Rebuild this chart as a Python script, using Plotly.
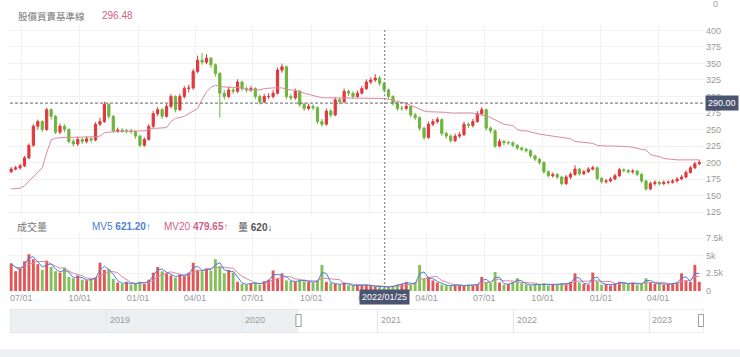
import pandas as pd
import plotly.graph_objects as go

# ---------------- data (weekly) ----------------
start_date = "2020-06-15"
first_open = 186
closes = [190, 192, 195, 207, 226, 255, 262, 250, 280, 270,
          246, 255, 250, 232, 228, 235, 232, 236, 234, 258,
          262, 288, 270, 248, 249, 248, 248, 247, 240, 226,
          235, 255, 274, 280, 270, 285, 300, 280, 300, 312,
          313, 338, 355, 352, 358, 348, 335, 305, 300, 310,
          308, 322, 312, 310, 312, 300, 292, 300, 300, 305,
          340, 345, 300, 298, 308, 288, 282, 285, 283, 262,
          258, 278, 272, 295, 292, 308, 305, 300, 305, 312,
          322, 325, 328, 320, 310, 300, 290, 282, 282, 285,
          272, 268, 252, 238, 258, 262, 265, 244, 240, 233,
          240, 242, 258, 256, 262, 274, 280, 252, 248, 225,
          232, 230, 230, 226, 222, 220, 218, 210, 205, 200,
          186, 180, 182, 178, 168, 178, 182, 190, 183, 186,
          190, 192, 176, 171, 172, 175, 180, 189, 188, 186,
          187, 182, 172, 160, 168, 170, 168, 170, 170, 172,
          175, 178, 185, 192, 198, 200]
highs = [193, 195, 198, 210, 229, 258, 265, 264, 283, 282,
         272, 259, 258, 252, 236, 239, 238, 240, 239, 261,
         268, 292, 290, 272, 253, 252, 251, 251, 249, 242,
         238, 258, 278, 284, 283, 289, 304, 302, 304, 316,
         318, 342, 362, 366, 364, 360, 350, 337, 310, 315,
         314, 326, 324, 315, 316, 314, 303, 304, 305, 310,
         344, 350, 347, 304, 312, 310, 291, 289, 288, 285,
         266, 282, 281, 299, 298, 312, 311, 308, 309, 316,
         326, 329, 334, 331, 322, 312, 302, 292, 286, 289,
         287, 275, 270, 254, 262, 266, 269, 267, 247, 243,
         244, 246, 262, 261, 266, 278, 284, 282, 255, 250,
         236, 234, 233, 232, 228, 224, 222, 220, 212, 207,
         202, 188, 185, 184, 180, 181, 185, 196, 192, 189,
         193, 195, 194, 178, 175, 178, 183, 192, 191, 190,
         190, 189, 184, 174, 171, 173, 172, 173, 173, 175,
         178, 181, 188, 195, 201, 204]
lows = [184, 188, 189, 193, 205, 224, 250, 246, 248, 265,
        243, 243, 246, 229, 224, 225, 228, 229, 230, 232,
        255, 260, 266, 245, 245, 245, 244, 243, 236, 223,
        224, 233, 252, 270, 266, 268, 282, 276, 278, 297,
        306, 310, 335, 348, 349, 343, 330, 268, 295, 297,
        304, 305, 308, 306, 307, 296, 288, 290, 296, 297,
        303, 336, 296, 294, 295, 284, 278, 279, 279, 258,
        254, 256, 268, 270, 288, 290, 301, 296, 298, 303,
        310, 319, 322, 316, 306, 296, 286, 278, 278, 279,
        268, 264, 248, 234, 236, 255, 259, 240, 236, 230,
        231, 237, 240, 252, 253, 260, 271, 248, 244, 222,
        223, 226, 227, 223, 219, 217, 215, 207, 202, 197,
        183, 177, 177, 175, 165, 166, 175, 180, 180, 181,
        184, 188, 173, 168, 168, 170, 173, 178, 185, 183,
        183, 179, 169, 157, 158, 165, 165, 166, 167, 168,
        170, 173, 176, 183, 190, 196]
baseline = [160, 160, 161, 165, 172, 178, 186, 192, 215, 234,
            237, 238, 238, 238, 238, 238, 238, 238, 238, 239,
            240, 245, 246, 247, 247, 247, 247, 247, 247, 247,
            248, 250, 252, 252, 252, 253, 262, 267, 268, 270,
            274, 278, 282, 295, 307, 314, 317, 315, 314, 314,
            314, 313, 313, 310, 310, 310, 310, 312, 313, 313,
            313, 313, 311, 310, 310, 308, 305, 303, 301, 299,
            298, 298, 298, 298, 298, 298, 297, 297, 297, 297,
            297, 297, 297, 297, 297, 296, 294, 292, 291, 290,
            286, 284, 281, 278, 277, 277, 276, 276, 276, 275,
            275, 275, 275, 275, 275, 273, 272, 271, 268, 265,
            262, 258, 257, 256, 250, 248, 248, 246, 244, 243,
            242, 241, 240, 239, 238, 238, 236, 232, 231, 231,
            230, 229, 226, 225, 225, 225, 225, 224, 224, 224,
            223, 221, 220, 219, 212, 210, 209, 206, 205, 204,
            204, 204, 204, 204, 204, 204]
volume = [3900, 2800, 3200, 4200, 5200, 4500, 3800, 3000, 4300, 3400,
          2800, 2600, 3300, 2000, 1800, 2200, 1600, 1500, 1700, 1900,
          4000, 3000, 3100, 1700, 1200, 1000, 1300, 900, 1100, 1300,
          1000, 1600, 2600, 3400, 2800, 2500, 2200, 1900, 2400, 2100,
          2600, 4000, 3000, 2800, 3200, 2900, 4500, 3500, 2500, 3000,
          2600, 1300, 1000, 900, 1100, 1200, 900, 1400, 1600, 2900,
          1800, 2500, 1500, 1400, 1300, 1600, 1500, 1300, 1200, 1500,
          3700, 1300, 1100, 1000, 900, 1200, 800, 700, 900, 800,
          900, 700, 600, 700, 500, 620, 700, 900, 1000, 1300,
          900, 1200, 3700, 1700, 2000, 1500, 1200, 900, 800, 700,
          900, 800, 700, 900, 800, 1000, 2000, 1300, 1100, 2700,
          1200, 900, 1000, 1300, 1800, 1100, 900, 800, 1000, 900,
          1100, 800, 1000, 900, 1100, 900, 1300, 2500, 1200, 1000,
          900, 2600, 1400, 900, 1000, 800, 1100, 1300, 1100, 1000,
          1200, 900, 1100, 1800, 1200, 1000, 1100, 900, 1000, 1100,
          1200, 2500, 1500, 1300, 3700, 1300]

x_tick_labels_fmt = "%m/%d"
price_ticks = [125, 150, 175, 200, 225, 250, 275, 300, 325, 350, 375, 400]
vol_ticks = [0, 2500, 5000, 7500]
vol_tick_text = ["0", "2.5k", "5k", "7.5k"]
slider_years = ["2019", "2020", "2021", "2022", "2023"]

cross_date = "2022-01-25"
cross_price = 290.00
baseline_value = "296.48"
mv5_value, mv20_value, vol_value = "621.20", "479.65", "620"

# ---------------- derived ----------------
dates = pd.date_range(start_date, periods=len(closes), freq="7D")
opens = [first_open] + closes[:-1]
vol_s = pd.Series(volume, dtype=float)
mv5 = vol_s.rolling(2, min_periods=1).mean()
mv20 = vol_s.rolling(5, min_periods=1).mean()

RED = "#e0383c"
GREEN = "#6fb43c"
PINK = "#d98aa2"
BLUE = "#4f7fd6"
GRID = "#f1f1f1"
TICK = dict(size=9, color="#9a9a9a", family="Liberation Sans, Arial")

W, H = 740, 357
ML, MR = 8, 35
PW = W - ML - MR


def px(x):
    return (x - ML) / PW


def py(y):
    return 1 - y / H


fig = go.Figure()

fig.add_trace(go.Candlestick(
    x=dates, open=opens, high=highs, low=lows, close=closes,
    increasing=dict(line=dict(color=RED, width=1), fillcolor=RED),
    decreasing=dict(line=dict(color=GREEN, width=1), fillcolor=GREEN),
    whiskerwidth=0, xaxis="x", yaxis="y", showlegend=False, hoverinfo="skip"))

fig.add_trace(go.Scatter(x=dates, y=baseline, mode="lines",
                         line=dict(color=PINK, width=1), xaxis="x", yaxis="y",
                         showlegend=False, hoverinfo="skip"))

bar_colors = [RED if c >= o else GREEN for o, c in zip(opens, closes)]
fig.add_trace(go.Bar(x=dates, y=volume, marker=dict(color=bar_colors, line=dict(width=0)),
                     opacity=0.85, xaxis="x2", yaxis="y2", showlegend=False, hoverinfo="skip"))
fig.add_trace(go.Scatter(x=dates, y=mv20, mode="lines", line=dict(color=PINK, width=1),
                         xaxis="x2", yaxis="y2", showlegend=False, hoverinfo="skip"))
fig.add_trace(go.Scatter(x=dates, y=mv5, mode="lines", line=dict(color=BLUE, width=1),
                         xaxis="x2", yaxis="y2", showlegend=False, hoverinfo="skip"))

# invisible trace for slider axis
fig.add_trace(go.Scatter(x=["2018-04-16", "2023-05-29"], y=[0, 1], mode="markers",
                         marker=dict(opacity=0), xaxis="x3", yaxis="y3",
                         showlegend=False, hoverinfo="skip"))

xrange_main = ["2020-06-10", "2023-06-14"]
common_x = dict(type="date", range=xrange_main, showgrid=True, gridcolor=GRID,
                dtick="M3", tick0="2020-01-01", zeroline=False, showline=False,
                ticks="", automargin=False, rangeslider=dict(visible=False))

fig.update_layout(
    width=W, height=H, margin=dict(l=ML, r=MR, t=0, b=0),
    paper_bgcolor="white", plot_bgcolor="white", bargap=0.35,
    hovermode=False,
    font=dict(family="Liberation Sans, Arial, Noto Sans CJK TC"),
    xaxis=dict(**common_x, domain=[0, 1], anchor="y", showticklabels=False),
    yaxis=dict(domain=[py(215), py(25)], range=[120.5, 408.3], side="right",
               tickvals=price_ticks, showgrid=True, gridcolor=GRID, zeroline=False,
               tickfont=TICK, automargin=False),
    xaxis2=dict(**common_x, domain=[0, 1], anchor="y2", showticklabels=True,
                tickformat=x_tick_labels_fmt, tickfont=TICK),
    yaxis2=dict(domain=[py(291), py(232)], range=[0, 8350], side="right",
                tickvals=vol_ticks, ticktext=vol_tick_text, showgrid=True,
                gridcolor=GRID, zeroline=False, tickfont=TICK, automargin=False),
    xaxis3=dict(type="date", domain=[px(10), px(704)], anchor="y3",
                range=["2018-04-16", "2023-05-29"], showgrid=True, gridcolor="#e3e6ea",
                dtick="M12", tick0="2019-01-01", showticklabels=False, zeroline=False,
                automargin=False),
    yaxis3=dict(domain=[py(333), py(309)], range=[0, 1], showgrid=False,
                showticklabels=False, zeroline=False, automargin=False),
)

shapes = [
    # crosshair
    dict(type="line", xref="x", yref="paper", x0=cross_date, x1=cross_date,
         y0=py(292), y1=py(30), line=dict(color="#777", width=1, dash="2px,2px")),
    dict(type="line", xref="paper", yref="y", x0=px(10), x1=1, y0=cross_price, y1=cross_price,
         line=dict(color="#666", width=1, dash="3px,2px")),
    # slider
    dict(type="rect", xref="x3", yref="y3", x0="2018-04-16", x1="2020-06-01", y0=0, y1=1,
         fillcolor="#edf0f3", line=dict(width=0), layer="below"),
    dict(type="rect", xref="x3", yref="y3", x0="2018-04-16", x1="2023-05-29", y0=0, y1=1,
         fillcolor="rgba(0,0,0,0)", line=dict(color="#dcdfe4", width=1)),
    dict(type="rect", xref="x3", yref="y3", x0="2020-05-25", x1="2020-06-08", y0=0.27, y1=0.77,
         fillcolor="white", line=dict(color="#9a9a9a", width=1)),
    dict(type="rect", xref="x3", yref="y3", x0="2023-05-14", x1="2023-05-28", y0=0.27, y1=0.77,
         fillcolor="white", line=dict(color="#9a9a9a", width=1)),
    # bottom strip
    dict(type="rect", xref="paper", yref="paper", x0=px(0), x1=px(W), y0=py(H), y1=py(349),
         fillcolor="#eef0f3", line=dict(width=0)),
]
fig.update_layout(shapes=shapes)

CJK = "Noto Sans CJK TC"
ann = [
    dict(x=px(16), y=py(16), text="股價買賣基準線", font=dict(size=9.5, color="#777", family=CJK),
         xanchor="left"),
    dict(x=px(100), y=py(16), text=baseline_value, font=dict(size=10, color="#d2608a"),
         xanchor="left"),
    dict(x=px(15), y=py(226), text="成交量", font=dict(size=10, color="#777", family=CJK),
         xanchor="left"),
    dict(x=px(90), y=py(226), text=f"MV5 <b>{mv5_value}</b>↑", font=dict(size=10, color=BLUE),
         xanchor="left"),
    dict(x=px(162), y=py(226), text=f"MV20 <b>{mv20_value}</b>↑", font=dict(size=10, color="#d2608a"),
         xanchor="left"),
    dict(x=px(236), y=py(226), text=f"<span style='font-family:{CJK}'>量</span> <b>{vol_value}</b>↓",
         font=dict(size=10, color="#555"), xanchor="left"),
    dict(x=px(711), y=py(4), text="0", font=TICK, xanchor="left"),
    # crosshair labels
    dict(x=1, y=cross_price, xref="paper", yref="y", text=f"{cross_price:.2f}", xanchor="left",
         font=dict(size=9, color="white"), bgcolor="#4b5470", borderpad=2),
    dict(x=cross_date, xref="x2", y=py(297), text=cross_date.replace("-", "/"),
         font=dict(size=9, color="white"), bgcolor="#4b5470", borderpad=2),
]
for a in ann:
    a.setdefault("xref", "paper")
    a.setdefault("yref", "paper")
    a.setdefault("showarrow", False)
    a.setdefault("yanchor", "middle")
for yr in slider_years:
    ann.append(dict(x=f"{yr}-01-01", xref="x3", y=py(327), yref="paper", text=yr,
                    xanchor="left", xshift=1, showarrow=False, font=TICK))
fig.update_layout(annotations=ann)

fig.write_html("out.html", config={"displayModeBar": False},
               post_script="document.body.style.margin='0';")
